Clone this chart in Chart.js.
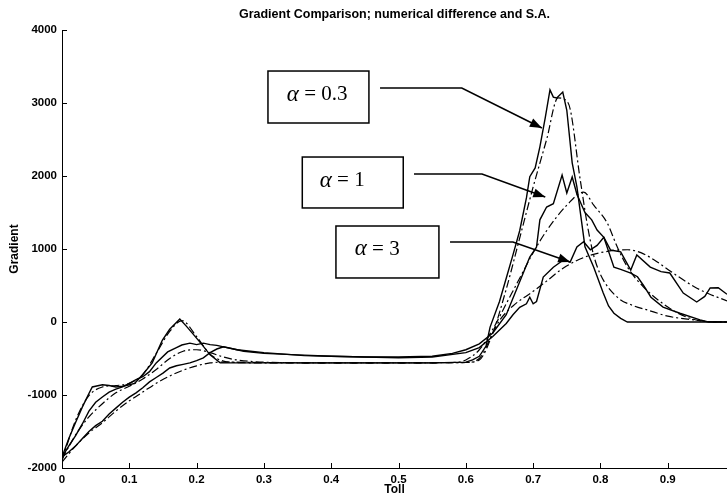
<!DOCTYPE html>
<html><head><meta charset="utf-8">
<script src="https://cdn.jsdelivr.net/npm/chart.js@4.4.0/dist/chart.umd.min.js"></script>
<style>html,body{margin:0;padding:0;background:#fff;}#wrap{width:727px;height:499px;}</style>
</head><body><div id="wrap"><canvas id="c" width="727" height="499"></canvas></div>
<script>
// ---------- data ----------
const titleText = 'Gradient Comparison; numerical difference and S.A.';
const xTitle = 'Toll';
const yTitle = 'Gradient';
const yTicks = [-2000, -1000, 0, 1000, 2000, 3000, 4000];
const xTicks = [0, 0.1, 0.2, 0.3, 0.4, 0.5, 0.6, 0.7, 0.8, 0.9];

// alpha = 0.3, numerical difference (solid)
const a03NumX = [0,0.01,0.02,0.03,0.04,0.045,0.06,0.07,0.08,0.09,0.1,0.108,0.12,0.134,0.149,0.16,0.175,0.185,0.198,0.208,0.22,0.235,0.26,0.3,0.35,0.4,0.45,0.5,0.55,0.6,0.61,0.62,0.63,0.636,0.65,0.66,0.67,0.68,0.69,0.695,0.703,0.71,0.718,0.725,0.73,0.735,0.744,0.75,0.758,0.765,0.777,0.79,0.804,0.812,0.82,0.83,0.84,0.9,0.988];
const a03NumY = [-1850,-1600,-1380,-1170,-980,-890,-860,-870,-890,-880,-860,-840,-720,-560,-250,-100,40,-60,-200,-310,-450,-560,-560,-560,-560,-560,-560,-560,-560,-550,-520,-470,-330,-70,280,600,920,1250,1700,1990,2110,2400,2800,3180,3080,3070,3150,2900,2180,1850,1030,750,400,220,120,50,0,0,0];
// alpha = 0.3, sensitivity analysis (dash-dot)
const a03SaX = [0,0.02,0.04,0.06,0.08,0.1,0.12,0.14,0.16,0.178,0.2,0.22,0.24,0.26,0.3,0.4,0.5,0.6,0.62,0.64,0.66,0.68,0.7,0.72,0.737,0.752,0.77,0.78,0.789,0.8,0.825,0.85,0.87,0.9,0.94,0.96,0.988];
const a03SaY = [-1900,-1350,-1010,-890,-870,-840,-720,-430,-130,20,-200,-440,-535,-555,-560,-560,-560,-555,-520,-150,450,1150,1850,2500,3070,3000,1945,1356,945,650,340,220,164,80,27,5,0];

// alpha = 1, numerical difference (solid)
const a1NumX = [0,0.01,0.02,0.03,0.04,0.05,0.06,0.07,0.08,0.09,0.1,0.11,0.12,0.13,0.14,0.157,0.17,0.178,0.19,0.2,0.21,0.22,0.23,0.24,0.26,0.28,0.3,0.33,0.36,0.4,0.45,0.5,0.55,0.58,0.6,0.62,0.64,0.66,0.68,0.695,0.705,0.71,0.72,0.73,0.743,0.75,0.758,0.765,0.777,0.787,0.795,0.805,0.82,0.83,0.845,0.855,0.864,0.875,0.893,0.918,0.948,0.96,0.988];
const a1NumY = [-1850,-1700,-1560,-1400,-1220,-1100,-1027,-960,-920,-890,-840,-790,-750,-680,-560,-410,-350,-315,-290,-310,-290,-310,-320,-340,-380,-400,-420,-440,-460,-470,-480,-480,-470,-430,-380,-300,-150,100,550,890,1027,1400,1575,1620,2014,1767,1986,1750,1500,1400,1260,1160,750,720,670,620,500,340,205,120,30,0,0];
// alpha = 1, sensitivity analysis (dash-dot)
const a1SaX = [0,0.02,0.04,0.06,0.08,0.1,0.12,0.14,0.16,0.18,0.2,0.22,0.24,0.26,0.3,0.4,0.5,0.58,0.6,0.62,0.64,0.66,0.68,0.7,0.72,0.75,0.775,0.79,0.81,0.825,0.84,0.864,0.9,0.93,0.96,0.988];
const a1SaY = [-1880,-1550,-1300,-1120,-970,-880,-780,-650,-500,-400,-380,-420,-480,-520,-550,-560,-560,-555,-520,-380,-100,250,600,950,1250,1600,1780,1600,1356,1027,753,480,205,60,5,0];

// alpha = 3, numerical difference (solid)
const a3NumX = [0,0.01,0.02,0.03,0.04,0.05,0.06,0.07,0.08,0.09,0.1,0.11,0.12,0.13,0.14,0.15,0.16,0.17,0.18,0.19,0.2,0.21,0.22,0.23,0.24,0.25,0.27,0.3,0.35,0.4,0.45,0.5,0.55,0.6,0.62,0.64,0.66,0.67,0.68,0.69,0.695,0.7,0.705,0.715,0.73,0.745,0.755,0.765,0.775,0.785,0.795,0.805,0.815,0.83,0.845,0.854,0.874,0.89,0.903,0.923,0.943,0.955,0.963,0.975,0.988];
const a3NumY = [-1850,-1780,-1700,-1600,-1500,-1420,-1360,-1260,-1180,-1100,-1030,-970,-900,-820,-760,-700,-630,-600,-580,-560,-530,-490,-420,-370,-340,-360,-400,-430,-450,-470,-480,-490,-480,-420,-350,-200,-20,100,200,250,340,250,280,616,750,850,820,1027,1100,990,1050,1160,986,960,712,918,753,690,671,397,274,350,466,470,380];
// alpha = 3, sensitivity analysis (dash-dot)
const a3SaX = [0,0.02,0.04,0.06,0.08,0.1,0.12,0.14,0.16,0.18,0.2,0.22,0.24,0.3,0.4,0.5,0.6,0.62,0.64,0.65,0.67,0.7,0.72,0.745,0.78,0.82,0.84,0.86,0.88,0.908,0.94,0.96,0.988];
const a3SaY = [-1920,-1700,-1520,-1380,-1220,-1080,-960,-840,-740,-660,-600,-560,-550,-555,-560,-560,-555,-500,-150,20,220,420,560,740,900,980,990,950,850,670,480,390,290];

// ---------- annotations (in data units) ----------
const labelAlpha = '\u03B1';
const labelRest = [' = 0.3', ' = 1', ' = 3'];
const annBoxes = [
  {x0:0.306, x1:0.456, y0:3438, y1:2726, tx:0.334, ty:3110, path:[[0.4725,3205],[0.594,3205],[0.713,2658]]},
  {x0:0.357, x1:0.507, y0:2260, y1:1562, tx:0.383, ty:1932, path:[[0.523,2027],[0.624,2027],[0.718,1712]]},
  {x0:0.407, x1:0.560, y0:1315, y1:603,  tx:0.435, ty:1000, path:[[0.5765,1096],[0.670,1096],[0.755,822]]}
];

function pts(xs, ys){ return xs.map((x,i)=>({x:x, y:ys[i]})); }

const solid = {borderColor:'#000', borderWidth:1.4, pointRadius:0, tension:0, fill:false};
const dashdot = {borderColor:'#000', borderWidth:1.2, pointRadius:0, borderDash:[8,3,2,3], cubicInterpolationMode:'monotone', fill:false};

const datasets = [
  Object.assign({label:'num 0.3', data:pts(a03NumX,a03NumY)}, solid),
  Object.assign({label:'SA 0.3', data:pts(a03SaX,a03SaY)}, dashdot),
  Object.assign({label:'num 1', data:pts(a1NumX,a1NumY)}, solid),
  Object.assign({label:'SA 1', data:pts(a1SaX,a1SaY)}, dashdot),
  Object.assign({label:'num 3', data:pts(a3NumX,a3NumY)}, solid),
  Object.assign({label:'SA 3', data:pts(a3SaX,a3SaY)}, dashdot)
];

const FONT = '"Liberation Sans", Arial, sans-serif';
const SERIF = '"Liberation Serif", "Times New Roman", serif';

const decor = {
  id:'decor',
  afterDraw(chart){
    const ctx = chart.ctx, ca = chart.chartArea;
    const xs = chart.scales.x, ys = chart.scales.y;
    ctx.save();
    // inward tick marks
    ctx.strokeStyle = '#000'; ctx.lineWidth = 1;
    ctx.beginPath();
    yTicks.forEach(v=>{ const p = Math.round(ys.getPixelForValue(v))+0.5; ctx.moveTo(ca.left, p); ctx.lineTo(ca.left+5, p); });
    xTicks.forEach(v=>{ const p = Math.round(xs.getPixelForValue(v))+0.5; ctx.moveTo(p, ca.bottom); ctx.lineTo(p, ca.bottom-5); });
    ctx.stroke();
    // title and axis titles
    ctx.fillStyle = '#000';
    ctx.font = 'bold 12.5px ' + FONT;
    ctx.textAlign = 'center'; ctx.textBaseline = 'middle';
    ctx.fillText(titleText, (ca.left+ca.right)/2, 15);
    ctx.font = 'bold 12px ' + FONT;
    ctx.fillText(xTitle, (ca.left+ca.right)/2, 490);
    ctx.save();
    ctx.translate(15, (ca.top+ca.bottom)/2);
    ctx.rotate(-Math.PI/2);
    ctx.fillText(yTitle, 0, 0);
    ctx.restore();
    // annotation boxes and arrows
    annBoxes.forEach((b,i)=>{
      const x0 = xs.getPixelForValue(b.x0), x1 = xs.getPixelForValue(b.x1);
      const y0 = ys.getPixelForValue(b.y0), y1 = ys.getPixelForValue(b.y1);
      ctx.fillStyle = '#fff';
      ctx.fillRect(x0, y0, x1-x0, y1-y0);
      ctx.strokeStyle = '#000'; ctx.lineWidth = 1.5;
      ctx.strokeRect(x0, y0, x1-x0, y1-y0);
      ctx.fillStyle = '#000';
      ctx.textAlign = 'left'; ctx.textBaseline = 'middle';
      const tx = xs.getPixelForValue(b.tx), ty = ys.getPixelForValue(b.ty);
      ctx.font = 'italic 23px ' + SERIF;
      ctx.fillText(labelAlpha, tx, ty);
      const w = ctx.measureText(labelAlpha).width;
      ctx.font = '21px ' + SERIF;
      ctx.fillText(labelRest[i], tx + w, ty);
      const P = b.path.map(p=>[xs.getPixelForValue(p[0]), ys.getPixelForValue(p[1])]);
      ctx.lineWidth = 1.6;
      ctx.beginPath();
      ctx.moveTo(P[0][0], P[0][1]);
      for (let k=1;k<P.length;k++) ctx.lineTo(P[k][0], P[k][1]);
      ctx.stroke();
      const a = P[P.length-2], e = P[P.length-1];
      const ang = Math.atan2(e[1]-a[1], e[0]-a[0]);
      const L = 12, W = 4.5;
      ctx.beginPath();
      ctx.moveTo(e[0], e[1]);
      ctx.lineTo(e[0]-L*Math.cos(ang)+W*Math.sin(ang), e[1]-L*Math.sin(ang)-W*Math.cos(ang));
      ctx.lineTo(e[0]-L*Math.cos(ang)-W*Math.sin(ang), e[1]-L*Math.sin(ang)+W*Math.cos(ang));
      ctx.closePath();
      ctx.fill();
    });
    ctx.restore();
  }
};

new Chart(document.getElementById('c'), {
  type:'line',
  data:{datasets:datasets},
  options:{
    responsive:false, devicePixelRatio:1, animation:false,
    layout:{padding:{top:30, right:0, left:0, bottom:0}},
    plugins:{legend:{display:false}, title:{display:false}, tooltip:{enabled:false}},
    scales:{
      x:{type:'linear', min:0, max:0.988,
         grid:{display:false, drawTicks:false},
         border:{display:true, color:'#000', width:1},
         afterBuildTicks(s){ s.ticks = xTicks.map(v=>({value:v})); },
         afterFit(s){ s.height = 31; },
         ticks:{padding:5, color:'#000', font:{family:FONT, size:11.5, weight:'bold'}, maxRotation:0, autoSkip:false,
                callback:(v)=> (Math.round(v*10)/10).toString()}},
      y:{type:'linear', min:-2000, max:4000,
         grid:{display:false, drawTicks:false},
         border:{display:true, color:'#000', width:1},
         afterBuildTicks(s){ s.ticks = yTicks.map(v=>({value:v})); },
         afterFit(s){ s.width = 62; },
         ticks:{padding:5, color:'#000', font:{family:FONT, size:11.5, weight:'bold'}, autoSkip:false,
                callback:(v)=> String(Math.round(v))}}
    }
  },
  plugins:[decor]
});
</script></body></html>
